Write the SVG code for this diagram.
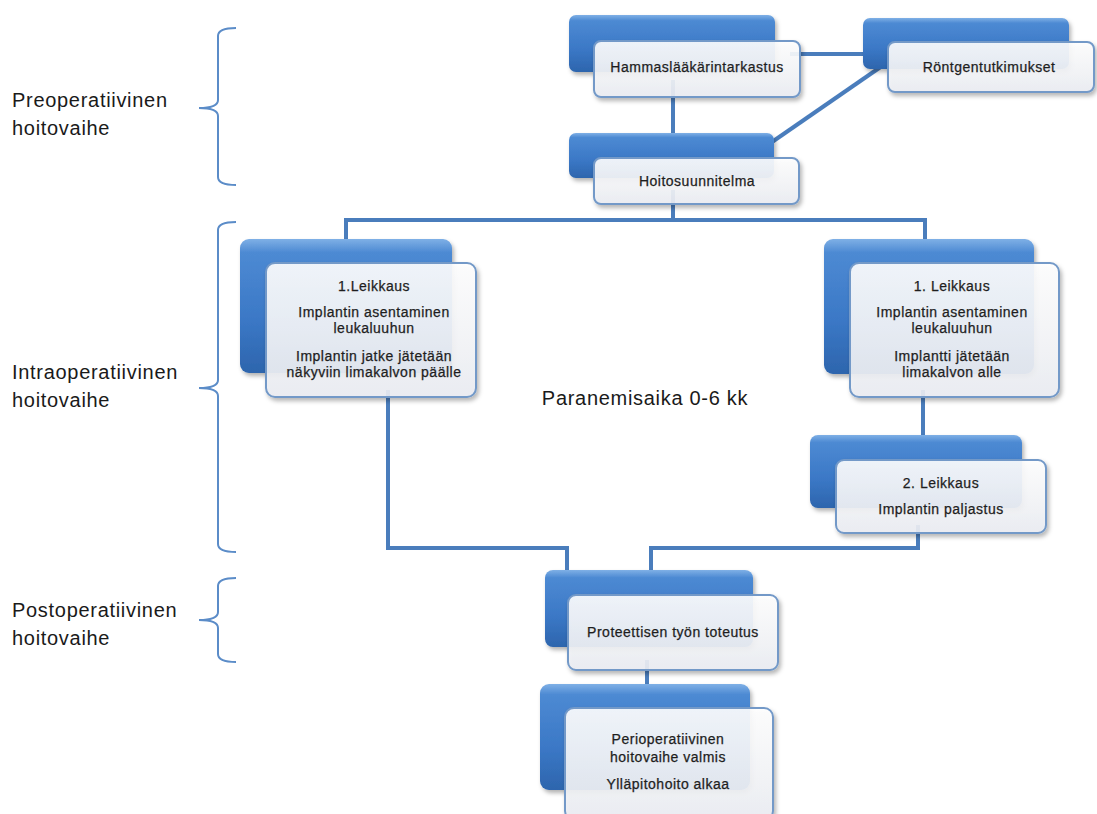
<svg xmlns="http://www.w3.org/2000/svg" width="1097" height="814" viewBox="0 0 1097 814">
<defs>
<linearGradient id="blueG" x1="0" y1="0" x2="0" y2="1">
<stop offset="0" stop-color="#7fb0e6"/>
<stop offset="0.1" stop-color="#4d8ad3"/>
<stop offset="0.6" stop-color="#3b78c6"/>
<stop offset="1" stop-color="#2d65ad"/>
</linearGradient>
<linearGradient id="whiteG" x1="0" y1="0" x2="0" y2="1">
<stop offset="0" stop-color="#ffffff"/>
<stop offset="1" stop-color="#eceef3"/>
</linearGradient>
<filter id="sh" x="-10%" y="-10%" width="130%" height="140%">
<feDropShadow dx="2" dy="3" stdDeviation="2" flood-color="#000" flood-opacity="0.3"/>
</filter>
</defs>
<style>
.back{fill:url(#blueG);filter:url(#sh);}
.front{fill:url(#whiteG);fill-opacity:0.9;stroke:#7399c8;stroke-width:2;filter:url(#sh);}
.t{font-family:"Liberation Sans",Arial,sans-serif;font-size:14px;letter-spacing:0.5px;fill:#1e1e1e;stroke:#1e1e1e;stroke-width:0.25;text-anchor:middle;}
.lbl{font-family:"Liberation Sans",Arial,sans-serif;font-size:20px;letter-spacing:0.7px;fill:#1a1a1a;}
.br{fill:none;stroke:#5b8cc8;stroke-width:2;}
.c{fill:none;stroke:#4a7dbc;stroke-width:4;}
</style>
<rect width="1097" height="814" fill="#ffffff"/>

<g id="phase-labels">
<text class="lbl" x="12" y="107">Preoperatiivinen</text>
<text class="lbl" x="12" y="135">hoitovaihe</text>
<text class="lbl" x="12" y="379">Intraoperatiivinen</text>
<text class="lbl" x="12" y="407">hoitovaihe</text>
<text class="lbl" x="12" y="617">Postoperatiivinen</text>
<text class="lbl" x="12" y="645">hoitovaihe</text>
</g>

<g id="brackets">
<path class="br" d="M236,28 Q218,28 218,36 L218,100 Q218,108 199,108 Q218,108 218,116 L218,177 Q218,185 236,185"/>
<path class="br" d="M236,222 Q218,222 218,230 L218,380 Q218,388 199,388 Q218,388 218,396 L218,544 Q218,552 236,552"/>
<path class="br" d="M236,578 Q218,578 218,586 L218,612 Q218,620 199,620 Q218,620 218,628 L218,654 Q218,662 236,662"/>
</g>

<g id="connectors">
<line class="c" x1="790" y1="54" x2="870" y2="54"/>
<line class="c" x1="673" y1="80" x2="673" y2="140"/>
<line class="c" x1="772" y1="142" x2="882" y2="66"/>
<polyline class="c" points="673,190 673,220"/>
<polyline class="c" points="346,245 346,220 925,220 925,245"/>
<polyline class="c" points="388,390 388,548 567,548 567,575"/>
<polyline class="c" points="923,390 923,440"/>
<polyline class="c" points="918,525 918,548 651,548 651,575"/>
<polyline class="c" points="647,660 647,690"/>
</g>

<g id="node-hammas">
<rect class="back" x="569" y="15" width="206" height="57" rx="7"/>
<rect class="front" x="594" y="41" width="206" height="56" rx="7"/>
<text class="t" x="697" y="72">Hammaslääkärintarkastus</text>
</g>

<g id="node-rontgen">
<rect class="back" x="863" y="18" width="206" height="51" rx="7"/>
<rect class="front" x="888" y="42" width="206" height="50" rx="7"/>
<text class="t" x="989" y="72">Röntgentutkimukset</text>
</g>

<g id="node-hoito">
<rect class="back" x="569" y="133" width="205" height="45" rx="7"/>
<rect class="front" x="594" y="158" width="205" height="46" rx="7"/>
<text class="t" x="697" y="186">Hoitosuunnitelma</text>
</g>

<g id="node-leikkaus1-left">
<rect class="back" x="240" y="239" width="212" height="134" rx="9"/>
<rect class="front" x="266" y="263" width="210" height="134" rx="9"/>
<text class="t" x="374" y="291">1.Leikkaus</text>
<text class="t" x="374" y="317">Implantin asentaminen</text>
<text class="t" x="374" y="333">leukaluuhun</text>
<text class="t" x="374" y="361">Implantin jatke jätetään</text>
<text class="t" x="374" y="377">näkyviin limakalvon päälle</text>
</g>

<g id="node-leikkaus1-right">
<rect class="back" x="824" y="239" width="210" height="135" rx="9"/>
<rect class="front" x="850" y="263" width="209" height="134" rx="9"/>
<text class="t" x="952" y="291">1. Leikkaus</text>
<text class="t" x="952" y="317">Implantin asentaminen</text>
<text class="t" x="952" y="333">leukaluuhun</text>
<text class="t" x="952" y="361">Implantti jätetään</text>
<text class="t" x="952" y="377">limakalvon alle</text>
</g>

<text class="lbl" x="645" y="405" text-anchor="middle">Paranemisaika 0-6 kk</text>

<g id="node-leikkaus2">
<rect class="back" x="810" y="435" width="212" height="73" rx="8"/>
<rect class="front" x="836" y="460" width="210" height="73" rx="8"/>
<text class="t" x="941" y="488">2. Leikkaus</text>
<text class="t" x="941" y="514">Implantin paljastus</text>
</g>

<g id="node-proteettinen">
<rect class="back" x="545" y="570" width="208" height="77" rx="8"/>
<rect class="front" x="568" y="595" width="210" height="75" rx="8"/>
<text class="t" x="673" y="637">Proteettisen työn toteutus</text>
</g>

<g id="node-peri">
<rect class="back" x="540" y="684" width="210" height="106" rx="9"/>
<rect class="front" x="565" y="708" width="208" height="112" rx="9"/>
<text class="t" x="668" y="744">Perioperatiivinen</text>
<text class="t" x="668" y="762">hoitovaihe valmis</text>
<text class="t" x="668" y="789">Ylläpitohoito alkaa</text>
</g>
</svg>
